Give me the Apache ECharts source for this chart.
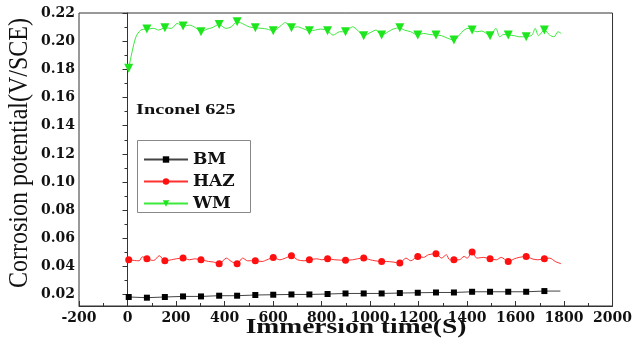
<!DOCTYPE html>
<html>
<head>
<meta charset="utf-8">
<script src="https://cdn.jsdelivr.net/npm/echarts@6/dist/echarts.min.js"></script>
<style>
  html, body { margin: 0; padding: 0; background: #fff; }
  #chart { width: 635px; height: 341px; }
</style>
</head>
<body>
<div id="chart"></div>
<script>
// marker times (s), shared by the three curves
var markT = [5, 80, 154, 229, 303, 378, 452, 527, 601, 676, 750, 825, 899, 974, 1048, 1123, 1197, 1272, 1346, 1421, 1495, 1570, 1644, 1719];

var bmMark = [0.0184, 0.0179, 0.0184, 0.0188, 0.0188, 0.0193, 0.0193, 0.0198, 0.0200, 0.0202, 0.0202, 0.0205, 0.0209, 0.0209, 0.0209, 0.0212, 0.0214, 0.0216, 0.0216, 0.0221, 0.0221, 0.0221, 0.0221, 0.0226];
var bmLineT = [1785];
var bmLineV = [0.0226];

var hazMark = [0.0448, 0.0455, 0.0441, 0.0460, 0.0448, 0.0420, 0.0420, 0.0441, 0.0464, 0.0477, 0.0448, 0.0455, 0.0445, 0.0460, 0.0436, 0.0425, 0.0472, 0.0491, 0.0448, 0.0503, 0.0455, 0.0436, 0.0472, 0.0455];
// points of the trace between markers
var hazLineT = [48, 61, 108, 131, 181, 201, 255, 277, 335, 355, 408, 428, 475, 495, 555, 575, 628, 651, 701, 728, 781, 801, 855, 928, 948, 1001, 1021, 1068, 1095, 1148, 1168, 1221, 1241, 1295, 1315, 1328, 1368, 1388, 1401, 1441, 1468, 1521, 1541, 1595, 1615, 1668, 1692, 1741, 1764, 1788];
var hazLineV = [0.0441, 0.0469, 0.0443, 0.0477, 0.0448, 0.0455, 0.0448, 0.0455, 0.0436, 0.0432, 0.0460, 0.0436, 0.0460, 0.0441, 0.0436, 0.0448, 0.0448, 0.0460, 0.0448, 0.0441, 0.0455, 0.0448, 0.0448, 0.0448, 0.0455, 0.0448, 0.0441, 0.0436, 0.0432, 0.0460, 0.0441, 0.0465, 0.0484, 0.0460, 0.0484, 0.0448, 0.0448, 0.0472, 0.0460, 0.0460, 0.0465, 0.0448, 0.0465, 0.0455, 0.0465, 0.0455, 0.0448, 0.0460, 0.0436, 0.0420];

var wmMark = [0.1807, 0.2086, 0.2095, 0.2107, 0.2067, 0.2119, 0.2138, 0.2095, 0.2074, 0.2095, 0.2074, 0.2074, 0.2067, 0.2039, 0.2043, 0.2095, 0.2043, 0.2043, 0.2008, 0.2079, 0.2039, 0.2043, 0.2032, 0.2079];
var wmLineT = [19, 35, 55, 108, 128, 181, 205, 255, 281, 328, 348, 405, 428, 481, 501, 555, 575, 635, 651, 701, 721, 775, 795, 848, 875, 928, 948, 1008, 1025, 1075, 1095, 1141, 1168, 1221, 1244, 1295, 1321, 1368, 1388, 1404, 1441, 1461, 1519, 1535, 1551, 1595, 1615, 1668, 1681, 1695, 1741, 1759, 1775, 1788];
var wmLineV = [0.1925, 0.2031, 0.2079, 0.2091, 0.2079, 0.2091, 0.2126, 0.2114, 0.2095, 0.2086, 0.2095, 0.2091, 0.2102, 0.2119, 0.2102, 0.2091, 0.2086, 0.2114, 0.2133, 0.2102, 0.2091, 0.2079, 0.2086, 0.2043, 0.2067, 0.2102, 0.2079, 0.2067, 0.2079, 0.2067, 0.2086, 0.2079, 0.2067, 0.2055, 0.2048, 0.2039, 0.2020, 0.2043, 0.2079, 0.2091, 0.2067, 0.2072, 0.2091, 0.2031, 0.2048, 0.2039, 0.2031, 0.2043, 0.2091, 0.2039, 0.2043, 0.2031, 0.2067, 0.2055];

var serif = '"Liberation Serif", "Times New Roman", serif';
var wide = '"DejaVu Serif", serif';

function buildData(markV, lineT, lineV) {
    var pts = markT.map(function (t, i) {
        return { value: [t, markV[i]] };
    });
    lineT.forEach(function (t, i) {
        pts.push({ value: [t, lineV[i]], symbol: 'none' });
    });
    pts.sort(function (a, b) { return a.value[0] - b.value[0]; });
    return pts;
}

var chart = echarts.init(document.getElementById('chart'), null, { renderer: 'canvas' });

chart.setOption({
    animation: false,
    backgroundColor: '#fff',
    grid: {
        left: 79, right: 7, top: 13, bottom: 35,
        show: true, borderColor: '#333', borderWidth: 1
    },
    legend: {
        orient: 'vertical',
        left: 135, top: 138,
        padding: [13, 8, 0, 8],
        itemGap: 5,
        itemWidth: 44,
        itemHeight: 8,
        textStyle: { fontFamily: wide, fontWeight: 'bold', fontSize: 17, lineHeight: 16, color: '#111' },
        data: ['BM', 'HAZ', 'WM']
    },
    xAxis: {
        type: 'value',
        min: -200, max: 2000, interval: 200,
        axisLine: { lineStyle: { color: '#333' } },
        axisTick: { inside: true, length: 5, lineStyle: { color: '#333' } },
        minorTick: { show: true, splitNumber: 2, length: 3, lineStyle: { color: '#333' } },
        splitLine: { show: false },
        axisLabel: {
            margin: 5, fontFamily: wide, fontWeight: 'bold', fontSize: 14, color: '#111',
            formatter: function (v) { return String(v); }
        }
    },
    yAxis: {
        type: 'value',
        min: 0.012, max: 0.22, splitNumber: 10,
        axisLine: { show: true, lineStyle: { color: '#333' } },
        axisTick: { show: true, length: 5, lineStyle: { color: '#333' } },
        minorTick: { show: true, splitNumber: 2, length: 3, lineStyle: { color: '#333' } },
        splitLine: { show: false },
        axisLabel: {
            showMinLabel: false,
            margin: 4, fontFamily: wide, fontWeight: 'bold', fontSize: 14, color: '#111',
            formatter: function (v) { return v.toFixed(2); }
        }
    },
    graphic: [
        {
            type: 'rect', left: 135, top: 138,
            shape: { width: 113, height: 72 },
            style: { fill: 'none', stroke: '#888', lineWidth: 1 }
        },
        {
            type: 'text', x: 20, y: 153, rotation: Math.PI / 2, scaleY: 1.1,
            style: { text: 'Corrosion potential(V/SCE)', font: '24px ' + serif, fill: '#111', textAlign: 'center', textVerticalAlign: 'middle' }
        },
        {
            type: 'text', x: 356, y: 327, scaleX: 1.25,
            style: { text: 'Immersion time(S)', font: 'bold 22px ' + serif, fill: '#111', textAlign: 'center', textVerticalAlign: 'middle' }
        },
        {
            type: 'text', x: 136, y: 110, scaleX: 1.35,
            style: { text: 'Inconel 625', font: 'bold 15px ' + serif, fill: '#111', textAlign: 'left', textVerticalAlign: 'middle' }
        }
    ],
    series: [
        {
            name: 'BM', type: 'line',
            data: buildData(bmMark, bmLineT, bmLineV),
            symbol: 'rect', symbolSize: 6,
            itemStyle: { color: '#000' },
            lineStyle: { color: '#444', width: 1 }
        },
        {
            name: 'HAZ', type: 'line', smooth: 0.3,
            data: buildData(hazMark, hazLineT, hazLineV),
            symbol: 'circle', symbolSize: 7,
            itemStyle: { color: '#ff1010' },
            lineStyle: { color: '#ff3030', width: 1 }
        },
        {
            name: 'WM', type: 'line', smooth: 0.3,
            data: buildData(wmMark, wmLineT, wmLineV),
            symbol: 'triangle', symbolRotate: 180, symbolSize: 9,
            itemStyle: { color: '#1ee61e' },
            lineStyle: { color: '#3cea3c', width: 1 }
        }
    ]
});
</script>
</body>
</html>
